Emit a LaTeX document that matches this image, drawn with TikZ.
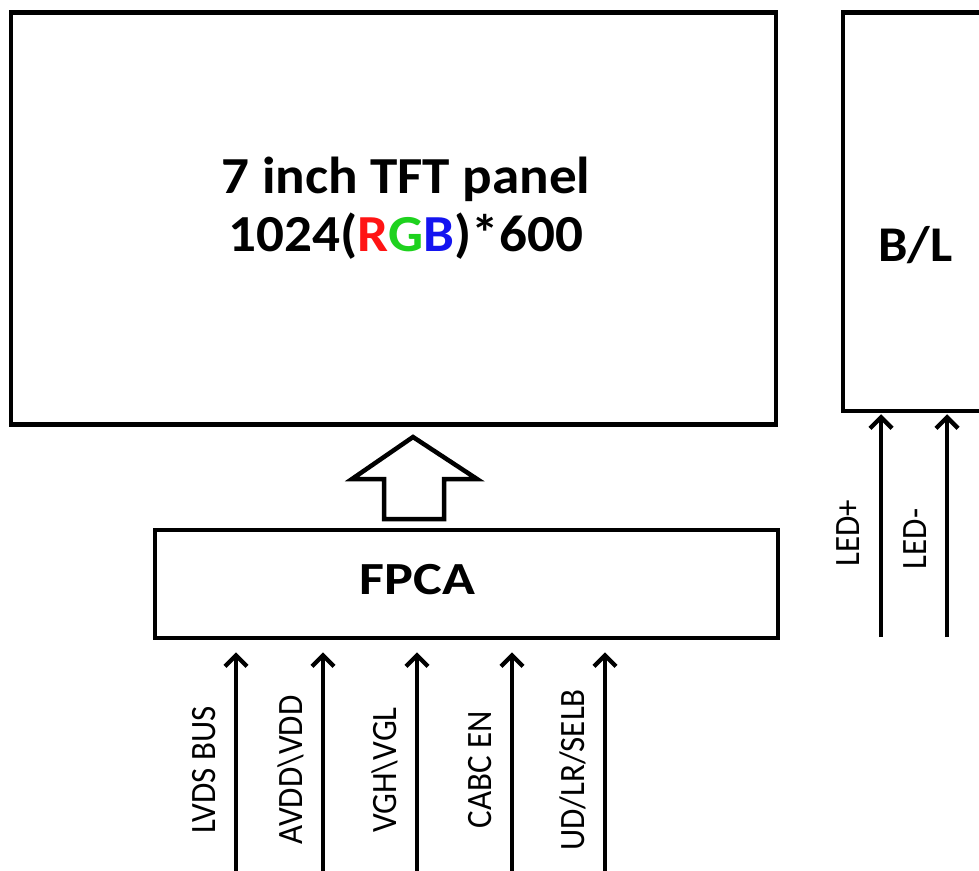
\documentclass[tikz,border=0pt]{standalone}
\usepackage{fontspec}
\setmainfont{Carlito}
\usetikzlibrary{arrows.meta,calc}
\definecolor{rgbR}{RGB}{255,20,20}
\definecolor{rgbG}{RGB}{30,210,30}
\definecolor{rgbB}{RGB}{20,20,240}
\newcommand{\lbltxt}[1]{\scalebox{1}[1.08]{#1}}
\tikzset{
  box/.style={draw=black, line width=4.5pt, fill=white, inner sep=0pt},
  bigtxt/.style={font=\fontsize{52}{58}\selectfont\bfseries, align=center, inner sep=0pt},
  sig/.style={line width=4pt, -{Straight Barb[length=11pt,width=22pt,line width=4.4pt]}},
  siglbl/.style={font=\fontsize{33}{36}\selectfont, rotate=90, inner sep=0pt}
}
\begin{document}
\begin{tikzpicture}[x=1pt,y=-1pt]
\useasboundingbox (0,0) rectangle (979,870);
\clip (0,0) rectangle (979,870);
% panel
\node[box, minimum width=765pt, minimum height=412pt] (panel) at (393.5,218.5) {};
\node[bigtxt] (ptxt) at (406,208) {\scalebox{1.06}[1]{7 inch TFT panel}\\\scalebox{1.06}[1]{1024(\textcolor{rgbR}{R}\textcolor{rgbG}{G}\textcolor{rgbB}{B})*600}};
% backlight
\node[box, minimum width=170pt, minimum height=398.5pt] (bl) at (928,211.75) {};
\node[font=\fontsize{50}{54}\selectfont\bfseries, inner sep=0pt] (bltxt) at (915.5,245) {\scalebox{1.05}[1]{B/L}};
% FPCA
\node[box, minimum width=623pt, minimum height=108pt] (fpca) at (466.5,584) {};
\node[font=\fontsize{46}{50}\selectfont\bfseries, inner sep=0pt] (fptxt) at (417.5,580) {\scalebox{1.18}[1]{FPCA}};
% block arrow
\coordinate (ba) at (413,437);
\draw[line width=4.5pt, line join=miter, fill=white]
  (ba) -- (477,479) -- (444,479) -- (444,519) -- (384,519) -- (384,479) -- (352,479) -- cycle;
% signal arrows
\foreach \n/\x/\t in {1/236/{LVDS BUS},2/323/{AVDD\textbackslash VDD},3/417/{VGH\textbackslash VGL},4/512/{CABC EN},5/605/{UD/LR/SELB}}{
  \coordinate (s\n) at (\x,880);
  \draw[sig, shorten >=12pt] (s\n) -- (s\n |- fpca.south);
  \node[siglbl] (l\n) at (\x-32,770) {\lbltxt{\t}};
}
% LED arrows
\coordinate (led1) at (881,637);
\coordinate (led2) at (947,637);
\draw[sig, shorten >=1pt] (led1) -- (led1 |- bl.south);
\draw[sig, shorten >=1pt] (led2) -- (led2 |- bl.south);
\node[siglbl] (ll1) at (848,533) {\lbltxt{LED+}};
\node[siglbl] (ll2) at (915,539) {\lbltxt{LED-}};
\end{tikzpicture}
\end{document}
